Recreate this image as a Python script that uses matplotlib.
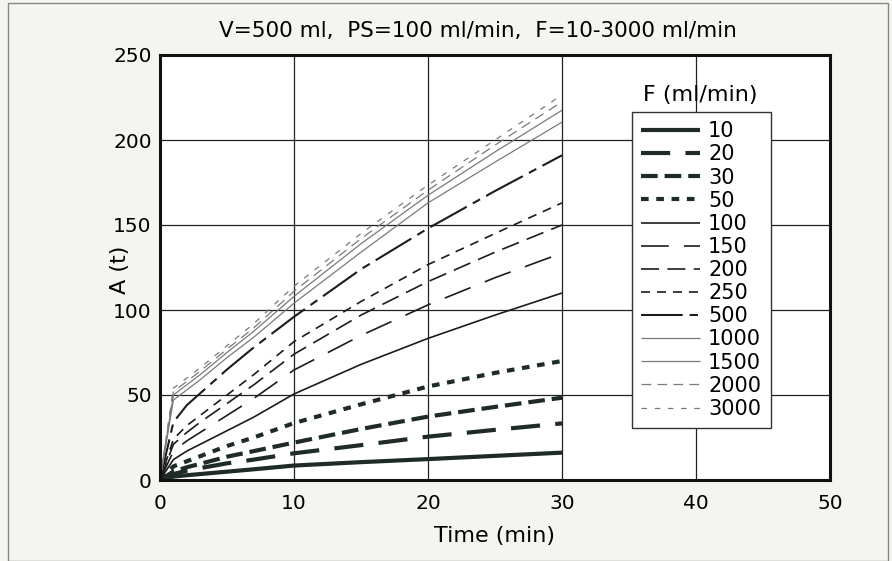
import matplotlib
matplotlib.use("Agg")
import matplotlib.pyplot as plt
from matplotlib.patches import Rectangle

plt.rcParams["font.family"] = ["DejaVu Sans"]
plt.rcParams["lines.scale_dashes"] = False

# time points (min)
t = [0, 1, 2, 3, 5, 7, 10, 15, 20, 25, 30]

# A(t) per flow F (ml/min)
flows = ["10", "20", "30", "50", "100", "150", "200", "250", "500", "1000", "1500", "2000", "3000"]
a_10 = [0, 2, 2.8, 3.5, 4.9, 6.3, 8.5, 10.5, 12.3, 14.2, 16.1]
a_20 = [0, 3.5, 5.5, 7, 9.8, 12, 15.7, 20.5, 25.5, 29.5, 33.3]
a_30 = [0, 5, 7.5, 9.5, 13.7, 17, 22, 30, 37.3, 43, 48.4]
a_50 = [0, 8, 11, 14, 20, 25, 33.5, 44.5, 55, 63, 70]
a_100 = [0, 12, 17, 21, 29, 37, 50.6, 68, 83.3, 97, 110]
a_150 = [0, 17, 23, 28, 38, 48, 64.7, 85, 103, 119, 133.5]
a_200 = [0, 21, 28, 34, 45, 56, 74, 97, 116.7, 134, 150]
a_250 = [0, 24, 32, 38, 50, 62, 81.4, 105, 126.7, 145, 163]
a_500 = [0, 34, 44, 51, 65, 78, 96, 124, 148, 170, 191]
a_1000 = [0, 47, 53, 59, 72, 84, 104, 134, 163, 187, 210.5]
a_1500 = [0, 50, 56, 62, 75, 87.5, 108, 139, 167.5, 193, 217.5]
a_2000 = [0, 52, 58, 64, 77, 89.5, 111, 142, 170.5, 197, 222.5]
a_3000 = [0, 54, 60, 66, 79, 92, 114, 145, 173.5, 200, 226.5]
series = [a_10, a_20, a_30, a_50, a_100, a_150, a_200, a_250, a_500,
          a_1000, a_1500, a_2000, a_3000]

thick = "#1f2b25"
dark = "#1c1c1c"
grey = "#7a7a7a"
styles = [
    (thick, 3.0, "-"),
    (thick, 3.0, (0, (21, 11))),
    (thick, 3.0, (0, (12, 5))),
    (thick, 3.0, (0, (5.5, 5.5))),
    (dark, 1.2, "-"),
    (dark, 1.2, (0, (20, 11))),
    (dark, 1.2, (0, (13, 6))),
    (dark, 1.2, (0, (6.5, 5))),
    (dark, 1.5, (0, (30, 5, 6, 5))),
    (grey, 0.9, "-"),
    (grey, 0.9, "-"),
    (grey, 0.9, (0, (7, 4.5))),
    (grey, 0.9, (0, (4, 5.5))),
]

fig = plt.figure(figsize=(8.92, 5.61), dpi=100)
fig.patch.set_facecolor("#f4f4f1")
fig.add_artist(Rectangle((8 / 892, 0.0), 880 / 892, 558 / 561, transform=fig.transFigure,
                         fill=False, edgecolor="#888888", lw=1.0))

ax = fig.add_axes([160 / 892, 1 - 480 / 561, 670 / 892, 425 / 561])
ax.set_facecolor("white")

lines = []
for y, lab, (c, lw, ls) in zip(series, flows, styles):
    ln, = ax.plot(t, y, color=c, lw=lw, linestyle=ls, dash_capstyle="butt",
                  solid_capstyle="butt", label=lab)
    lines.append(ln)

ax.set_xlim(0, 50)
ax.set_ylim(0, 250)
ax.set_xticks([0, 10, 20, 30, 40, 50])
ax.set_yticks([0, 50, 100, 150, 200, 250])
ax.grid(True, color="#222222", lw=0.9)
ax.set_axisbelow(True)
ax.tick_params(labelsize=14.5, length=0)
ax.tick_params(axis="x", pad=10)
ax.tick_params(axis="y", pad=6)
for s in ax.spines.values():
    s.set_linewidth(2.2)
    s.set_color("#111111")

ax.set_xlabel("Time (min)", fontsize=16)
ax.set_ylabel("A (t)", fontsize=16)
ax.xaxis.set_label_coords(0.5, -0.108)
ax.yaxis.set_label_coords(-0.045, 0.494)

fig.text(478 / 892, 1 - 31 / 561, "V=500 ml,  PS=100 ml/min,  F=10-3000 ml/min",
         ha="center", va="center", fontsize=15.5)

leg = ax.legend(handles=lines, loc="upper left", bbox_to_anchor=(0.704, 0.866),
                fontsize=15, frameon=True, fancybox=False, handlelength=2.84,
                handletextpad=0.38, labelspacing=0.15, borderpad=0.45,
                borderaxespad=0)
leg.get_frame().set_edgecolor("#333333")
leg.get_frame().set_linewidth(1.0)
leg.get_frame().set_facecolor("white")
leg.get_frame().set_alpha(1)

ax.text(0.806, 0.906, "F (ml/min)", transform=ax.transAxes, ha="center", va="center",
        fontsize=16)

fig.savefig("out.png", dpi=100, facecolor=fig.get_facecolor())
